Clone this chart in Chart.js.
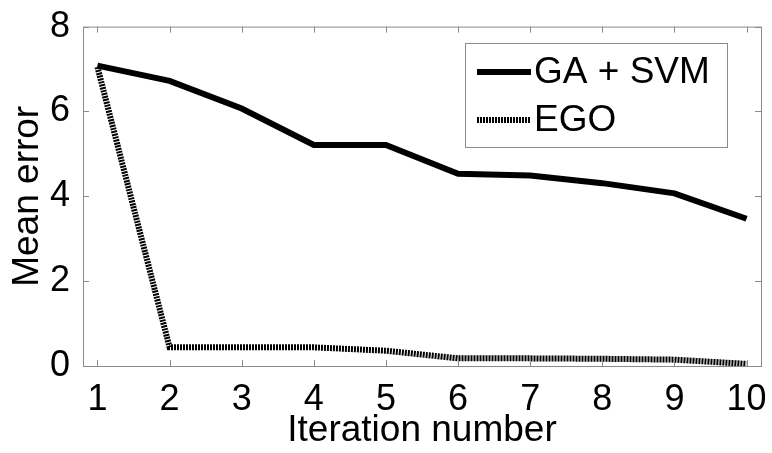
<!DOCTYPE html>
<html>
<head>
<meta charset="utf-8">
<script src="https://cdn.jsdelivr.net/npm/chart.js@4/dist/chart.umd.min.js"></script>
<style>
  html, body { margin: 0; padding: 0; background: #fff; }
  #wrap { width: 772px; height: 453px; }
</style>
</head>
<body>
<div id="wrap"><canvas id="graph" width="772" height="453"></canvas></div>
<script>
// values
const iterations = [1, 2, 3, 4, 5, 6, 7, 8, 9, 10]
const gaSvm = [7.08, 6.72, 6.07, 5.21, 5.21, 4.53, 4.49, 4.31, 4.07, 3.47]
const ego = [7.05, 0.44, 0.44, 0.44, 0.36, 0.18, 0.18, 0.17, 0.15, 0.05]
const seriesNames = ["GA + SVM", "EGO"]
const yTicks = [0, 2, 4, 6, 8]

const FONT = "'Liberation Sans', Arial, sans-serif"
const AXIS_GREY = "#8a8a8a"

const toPoints = (ys) => iterations.map((x, i) => ({ x: x, y: ys[i] }))

// matlab-like box with inward ticks on all four sides
const boxPlugin = {
    id: "box",
    afterDatasetsDraw(chart) {
        const { ctx, chartArea: a, scales } = chart
        ctx.save()
        ctx.strokeStyle = AXIS_GREY
        ctx.lineWidth = 1
        ctx.strokeRect(a.left + 0.5, a.top + 0.5, a.right - a.left, a.bottom - a.top)
        const len = 6
        ctx.beginPath()
        iterations.forEach((v) => {
            const px = Math.round(scales.x.getPixelForValue(v)) + 0.5
            ctx.moveTo(px, a.bottom); ctx.lineTo(px, a.bottom - len)
            ctx.moveTo(px, a.top); ctx.lineTo(px, a.top + len)
        })
        yTicks.forEach((v) => {
            const py = Math.round(scales.y.getPixelForValue(v)) + 0.5
            ctx.moveTo(a.left, py); ctx.lineTo(a.left + len, py)
            ctx.moveTo(a.right, py); ctx.lineTo(a.right - len, py)
        })
        ctx.stroke()

        // legend
        const lx = 465, ly = 43, lw = 262, lh = 104
        ctx.fillStyle = "#fff"
        ctx.fillRect(lx, ly, lw, lh)
        ctx.strokeRect(lx + 0.5, ly + 0.5, lw, lh)
        const rows = [72, 120]
        chart.data.datasets.forEach((ds, i) => {
            ctx.beginPath()
            ctx.strokeStyle = ds.borderColor
            ctx.lineWidth = ds.borderWidth
            ctx.setLineDash(ds.borderDash || [])
            ctx.moveTo(477, rows[i]); ctx.lineTo(531, rows[i])
            ctx.stroke()
            ctx.setLineDash([])
            ctx.fillStyle = "#000"
            ctx.font = "37px " + FONT
            ctx.textBaseline = "middle"
            ctx.fillText(ds.label, 534, rows[i] + 1)
        })
        ctx.restore()
    }
}

new Chart(document.getElementById("graph"), {
    type: "line",
    data: {
        datasets: [
            {
                label: seriesNames[0],
                data: toPoints(gaSvm),
                borderColor: "#000",
                borderWidth: 6,
                pointRadius: 0,
                tension: 0
            },
            {
                label: seriesNames[1],
                data: toPoints(ego),
                borderColor: "#000",
                borderWidth: 6,
                borderDash: [2, 1],
                borderCapStyle: "butt",
                pointRadius: 0,
                tension: 0
            }
        ]
    },
    options: {
        responsive: false,
        animation: false,
        layout: { padding: { top: 23, right: 11, left: 0, bottom: 0 } },
        plugins: {
            legend: { display: false },
            tooltip: { enabled: false }
        },
        scales: {
            x: {
                type: "linear",
                min: 0.8,
                max: 10.2,
                afterBuildTicks: (s) => { s.ticks = iterations.map((v) => ({ value: v })) },
                afterFit: (s) => { s.height = 87 },
                grid: { display: false },
                border: { display: false },
                ticks: { color: "#000", font: { family: FONT, size: 36 }, padding: 4, maxRotation: 0 },
                title: {
                    display: true,
                    text: "Iteration number",
                    color: "#000",
                    font: { family: FONT, size: 37 },
                    padding: { top: 0, bottom: 0 }
                }
            },
            y: {
                min: 0,
                max: 8,
                afterBuildTicks: (s) => { s.ticks = yTicks.map((v) => ({ value: v })) },
                afterFit: (s) => { s.width = 83 },
                grid: { display: false },
                border: { display: false },
                ticks: { color: "#000", font: { family: FONT, size: 36 }, padding: 5 },
                title: {
                    display: true,
                    text: "Mean error",
                    color: "#000",
                    font: { family: FONT, size: 37 },
                    padding: { top: 6, bottom: 0 }
                }
            }
        }
    },
    plugins: [boxPlugin]
})
</script>
</body>
</html>
